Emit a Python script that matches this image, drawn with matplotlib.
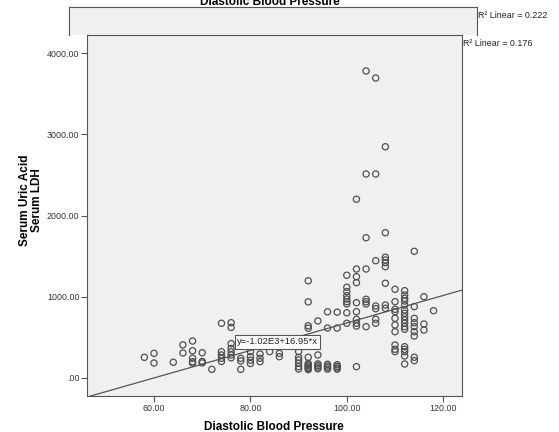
import matplotlib
matplotlib.use("Agg")
import matplotlib.pyplot as plt
from matplotlib.ticker import FuncFormatter

plt.rcParams['font.family'] = ['Liberation Sans', 'DejaVu Sans']

# diastolic blood pressure (x) and serum LDH (y)
dbp = [58,
       60, 60,
       64,
       66, 66,
       68, 68, 68, 68, 68,
       70, 70, 70,
       72,
       74, 74, 74, 74, 74,
       76, 76, 76, 76, 76, 76, 76,
       78, 78, 78,
       80, 80, 80, 80,
       82, 82, 82,
       84,
       86, 86,
       90, 90, 90, 90, 90, 90,
       92, 92, 92, 92, 92, 92, 92, 92, 92, 92, 92,
       94, 94, 94, 94, 94, 94,
       96, 96, 96, 96, 96, 96,
       98, 98, 98, 98, 98, 98,
       100, 100, 100, 100, 100, 100, 100, 100, 100,
       102, 102, 102, 102, 102, 102, 102, 102, 102, 102,
       104, 104, 104, 104, 104, 104, 104, 104,
       106, 106, 106, 106, 106, 106, 106,
       108, 108, 108, 108, 108, 108, 108, 108, 108,
       110, 110, 110, 110, 110, 110, 110, 110, 110, 110,
       112, 112, 112, 112, 112, 112, 112, 112, 112, 112, 112, 112, 112, 112, 112, 112, 112,
       114, 114, 114, 114, 114, 114, 114, 114, 114,
       116, 116, 116,
       118]
ldh = [251,
       300, 181,
       190,
       405, 305,
       452, 332, 239, 197, 180,
       308, 200, 182,
       103,
       671, 321, 280, 239, 200,
       678, 620, 420, 360, 320, 280, 245,
       239, 206, 103,
       321, 259, 215, 175,
       292, 239, 197,
       321,
       300, 259,
       321, 251, 218, 177, 136, 107,
       1195, 935, 640, 610, 251, 175, 160, 145, 130, 115, 100,
       700, 280, 170, 150, 130, 110,
       812, 612, 165, 145, 125, 105,
       808, 612, 160, 140, 120, 105,
       1263, 1115, 1061, 1011, 970, 937, 909, 800, 671,
       2200, 1340, 1245, 1172, 925, 814, 720, 671, 637, 136,
       3782, 2512, 1726, 1340, 967, 937, 909, 629,
       3695, 2512, 1443, 884, 851, 720, 671,
       2848, 1788, 1485, 1451, 1418, 1369, 1164, 896, 856,
       1090, 937, 843, 814, 732, 650, 567, 403, 350, 321,
       1073, 1020, 979, 946, 896, 835, 794, 752, 711, 671, 629, 597, 382, 350, 321, 268, 169,
       1558, 876, 732, 678, 629, 567, 514, 252, 210,
       999, 662, 588,
       826]

intercept = -1020.0
slope = 16.95
r2_top = 0.222
r2_main = 0.176

x_ticks = [60, 80, 100, 120]
y_ticks = [0, 1000, 2000, 3000, 4000]

W, H = 559, 432
fig = plt.figure(figsize=(W / 100, H / 100), dpi=100)

def px_rect(left, top, right, bottom):
    return [left / W, 1 - bottom / H, (right - left) / W, (bottom - top) / H]

bg = '#f0f0f0'
edge = '#555555'

# partly hidden panel behind the main plot
top_ax = fig.add_axes(px_rect(69, 7, 477, 35), zorder=0)
top_ax.set_facecolor(bg)
top_ax.set_xticks([])
top_ax.set_yticks([])
top_ax.spines['bottom'].set_visible(False)
for s in ['top', 'left', 'right']:
    top_ax.spines[s].set_color(edge)
    top_ax.spines[s].set_linewidth(0.8)

fig.text(270 / W, 1 - 5 / H, 'Diastolic Blood Pressure', ha='center', va='baseline',
         fontsize=8.5, fontweight='bold')
fig.text(478 / W, 1 - 15 / H, f'R\u00b2 Linear = {r2_top:.3f}', ha='left', va='center',
         fontsize=6.4, color='#222222')

ax = fig.add_axes(px_rect(87, 35, 462, 396), zorder=2)
ax.set_facecolor(bg)
ax.scatter(dbp, ldh, s=20, facecolors='none', edgecolors='#505050', linewidths=0.9, zorder=3)

xl = (46.1, 123.9)
ax.plot(list(xl), [intercept + slope * v for v in xl], color='#555555', lw=0.9, zorder=2)
ax.set_xlim(xl)
ax.set_ylim(-226, 4226)

ax.text(85.6, 444, 'y=-1.02E3+16.95*x', ha='center', va='center', fontsize=6.8,
        color='#222222', zorder=4,
        bbox=dict(boxstyle='square,pad=0.25', facecolor='white', edgecolor='#555555', linewidth=0.8))

ax.set_xticks(x_ticks)
ax.set_yticks(y_ticks)
fmt = FuncFormatter(lambda v, p: ('%.2f' % v).lstrip('0') if v == 0 else '%.2f' % v)
ax.xaxis.set_major_formatter(fmt)
ax.yaxis.set_major_formatter(fmt)
ax.tick_params(direction='out', length=4, width=0.8, color=edge, labelsize=6.4,
               labelcolor='#333333', pad=1.5)
for s in ax.spines.values():
    s.set_color(edge)
    s.set_linewidth(0.8)

fig.text(463 / W, 1 - 44 / H, f'R\u00b2 Linear = {r2_main:.3f}', ha='left', va='center',
         fontsize=6.4, color='#222222')

fig.text(274 / W, 1 - 427 / H, 'Diastolic Blood Pressure', ha='center', va='center',
         fontsize=8.5, fontweight='bold')
fig.text(31 / W, 1 - 200 / H, 'Serum Uric Acid\nSerum LDH', ha='center', va='center',
         rotation=90, fontsize=8.5, fontweight='bold', linespacing=0.9)

fig.savefig('out.png', dpi=100)
